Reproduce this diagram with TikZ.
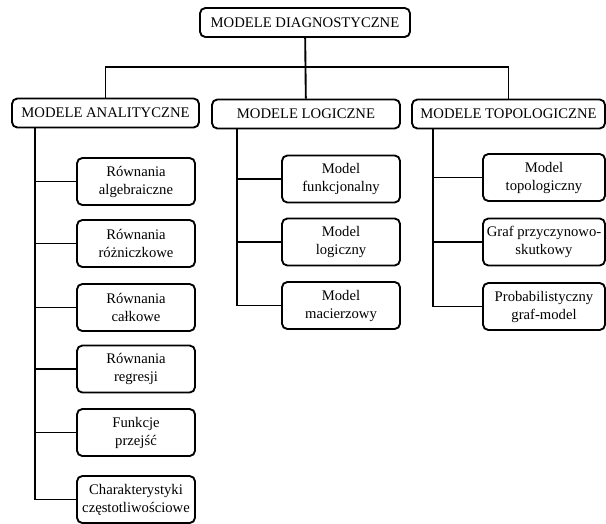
\documentclass[tikz,border=0pt]{standalone}
\usepackage{fontspec}
\setmainfont{Liberation Serif}
\begin{document}
\begin{tikzpicture}[x=0.75pt, y=-0.75pt, line width=1.4pt,
    box/.style={draw, rounded corners=4pt, align=center, inner sep=1pt,
        font=\fontsize{11}{13.5}\selectfont},
    head/.style={box, minimum height=29*0.75pt},
    leaf/.style={box, minimum width=118*0.75pt, minimum height=47*0.75pt}]
        \useasboundingbox (0,0) rectangle (606,524);

        % Top level
        \node[head, minimum width=210*0.75pt] (diag) at (305,22.5) {MODELE DIAGNOSTYCZNE};
        \node[head, minimum width=187*0.75pt] (anal) at (105.5,113) {MODELE ANALITYCZNE};
        \node[head, minimum width=188*0.75pt] (logi) at (306,114) {MODELE LOGICZNE};
        \node[head, minimum width=193*0.75pt] (topo) at (508.5,114) {MODELE TOPOLOGICZNE};
        \coordinate (bus) at (306,67);
        \draw (diag) -- (logi);
        \draw (anal) |- (bus) -| (topo);

        % Analytical models
        \node[leaf] (a1) at (136,181.5) {Równania\\algebraiczne};
        \node[leaf] (a2) at (136,243.5) {Równania\\różniczkowe};
        \node[leaf] (a3) at (136,307.5) {Równania\\całkowe};
        \node[leaf] (a4) at (136,369) {Równania\\regresji};
        \node[leaf] (a5) at (136,432.5) {Funkcje\\przejść};
        \node[leaf] (a6) at (136,499.5) {Charakterystyki\\częstotliwościowe};
        \coordinate (ta) at (35,128);
        \draw (ta) |- (a6);
        \foreach \c in {a1,a2,a3,a4,a5}
            \draw (ta |- \c) -- (\c);

        % Logical models
        \node[leaf] (l1) at (341,179) {Model\\funkcjonalny};
        \node[leaf] (l2) at (341,242) {Model\\logiczny};
        \node[leaf] (l3) at (341,305.5) {Model\\macierzowy};
        \coordinate (tl) at (237,128);
        \draw (tl) |- (l3);
        \foreach \c in {l1,l2}
            \draw (tl |- \c) -- (\c);

        % Topological models
        \node[leaf, minimum width=122*0.75pt] (t1) at (544,177.5) {Model\\topologiczny};
        \node[leaf, minimum width=122*0.75pt] (t2) at (544,242) {Graf przyczynowo-\\skutkowy};
        \node[leaf, minimum width=122*0.75pt] (t3) at (544,306.5) {Probabilistyczny\\graf-model};
        \coordinate (tt) at (433,128);
        \draw (tt) |- (t3);
        \foreach \c in {t1,t2}
            \draw (tt |- \c) -- (\c);
\end{tikzpicture}
\end{document}
